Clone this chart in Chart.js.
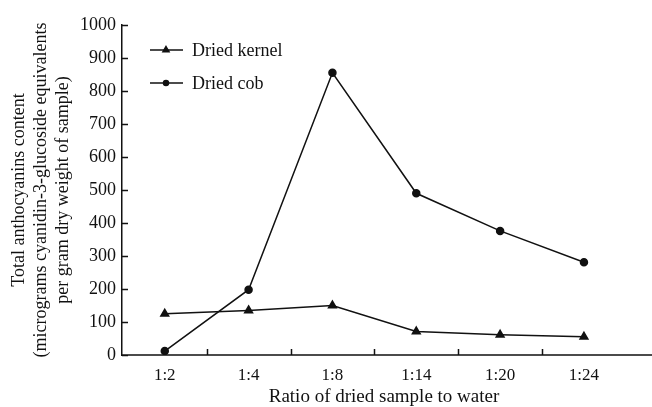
<!DOCTYPE html>
<html>
<head>
<meta charset="utf-8">
<script src="https://cdn.jsdelivr.net/npm/chart.js@4.4.0/dist/chart.umd.min.js"></script>
<style>
  html, body { margin: 0; padding: 0; background: #fff; overflow: hidden; }
  #wrap { width: 652px; height: 407px; position: relative; }
  #anthocyanin-chart { display: block; }
</style>
</head>
<body>
<div id="wrap"><canvas id="anthocyanin-chart"></canvas></div>
<script>
// Chart data
const ratioLabels = ['1:2', '1:4', '1:8', '1:14', '1:20', '1:24'];
const kernelValues = [125, 135, 150, 71, 61, 55];
const cobValues = [12, 198, 855, 490, 376, 281];
const cobErrors = [0, 0, 4, 5, 10, 7];
const yTickValues = [0, 100, 200, 300, 400, 500, 600, 700, 800, 900, 1000];

const INK = '#111';
const FONT = 'Liberation Serif, Times New Roman, serif';

// x axis line to the canvas edge, inward tick marks, small error bars
const axisTicksPlugin = {
  id: 'axisTicks',
  afterDatasetsDraw(chart) {
    const { ctx, scales: { x, y } } = chart;
    ctx.save();
    ctx.strokeStyle = INK;
    ctx.lineWidth = 1.5;
    ctx.beginPath();
    const axisY = y.getPixelForValue(0);
    ctx.moveTo(x.left - 0.75, axisY);
    ctx.lineTo(chart.width + 2, axisY);
    yTickValues.forEach(v => {
      const py = Math.round(y.getPixelForValue(v)) + 0.5;
      ctx.moveTo(x.left, py);
      ctx.lineTo(x.left + 6, py);
    });
    for (let i = 1; i < ratioLabels.length; i++) {
      const px = Math.round(x.getPixelForValue(i + 0.5)) + 0.5;
      ctx.moveTo(px, axisY);
      ctx.lineTo(px, axisY - 6);
    }
    // error bars on dried cob
    cobValues.forEach((v, i) => {
      const err = cobErrors[i];
      if (!err) return;
      const px = x.getPixelForValue(i + 1);
      ctx.moveTo(px, y.getPixelForValue(v + err));
      ctx.lineTo(px, y.getPixelForValue(v - err));
    });
    ctx.stroke();
    ctx.restore();
  }
};

// Legend drawn inside the plot, top-left
const innerLegendPlugin = {
  id: 'innerLegend',
  afterDraw(chart) {
    const { ctx } = chart;
    ctx.save();
    ctx.font = '18px ' + FONT;
    ctx.fillStyle = INK;
    ctx.textBaseline = 'middle';
    chart.data.datasets.forEach((ds, i) => {
      const yy = 50 + i * 33;
      ctx.strokeStyle = INK;
      ctx.lineWidth = 1.5;
      ctx.beginPath();
      ctx.moveTo(150, yy);
      ctx.lineTo(183, yy);
      ctx.stroke();
      Chart.helpers.drawPoint(ctx, {
        pointStyle: ds.pointStyle,
        radius: ds.pointRadius - 1,
        borderWidth: 1
      }, 166, yy);
      ctx.fillText(ds.label, 192, yy + 1);
    });
    ctx.restore();
  }
};

const ctx = document.getElementById('anthocyanin-chart').getContext('2d');
new Chart(ctx, {
  type: 'line',
  data: {
    datasets: [
      {
        label: 'Dried kernel',
        data: kernelValues.map((v, i) => ({ x: i + 1, y: v })),
        borderColor: INK,
        backgroundColor: INK,
        borderWidth: 1.5,
        pointStyle: 'triangle',
        pointRadius: 4.5,
        tension: 0
      },
      {
        label: 'Dried cob',
        data: cobValues.map((v, i) => ({ x: i + 1, y: v })),
        borderColor: INK,
        backgroundColor: INK,
        borderWidth: 1.5,
        pointStyle: 'circle',
        pointRadius: 3.5,
        tension: 0
      }
    ]
  },
  options: {
    responsive: true,
    maintainAspectRatio: false,
    animation: false,
    layout: { padding: { top: 25, right: 0, left: 0, bottom: 0 } },
    plugins: {
      legend: { display: false },
      tooltip: { enabled: false }
    },
    scales: {
      x: {
        type: 'linear',
        min: 0.49,
        max: 6.74,
        afterBuildTicks: scale => {
          scale.ticks = ratioLabels.map((_, i) => ({ value: i + 1 }));
        },
        afterFit: scale => { scale.height = 52; },
        grid: { display: false, drawTicks: false },
        border: { display: false },
        ticks: {
          color: INK,
          padding: 10,
          font: { family: FONT, size: 17 },
          callback: value => ratioLabels[value - 1]
        },
        title: {
          display: true,
          text: 'Ratio of dried sample to water',
          color: INK,
          padding: { top: 0, bottom: 0 },
          font: { family: FONT, size: 19, lineHeight: 1.1 }
        }
      },
      y: {
        min: 0,
        max: 1000,
        afterBuildTicks: scale => {
          scale.ticks = yTickValues.map(v => ({ value: v }));
        },
        afterFit: scale => { scale.width = 122; },
        grid: { display: false, drawTicks: false },
        border: { display: true, color: INK, width: 1.5 },
        ticks: {
          color: INK,
          padding: 6,
          font: { family: FONT, size: 18 },
          callback: value => String(value)
        },
        title: {
          display: true,
          text: [
            'Total anthocyanins content',
            '(micrograms cyanidin-3-glucoside equivalents',
            'per gram dry weight of sample)'
          ],
          color: INK,
          padding: { top: 8, bottom: 0 },
          font: { family: FONT, size: 18, lineHeight: 1.22 }
        }
      }
    }
  },
  plugins: [axisTicksPlugin, innerLegendPlugin]
});
</script>
</body>
</html>
